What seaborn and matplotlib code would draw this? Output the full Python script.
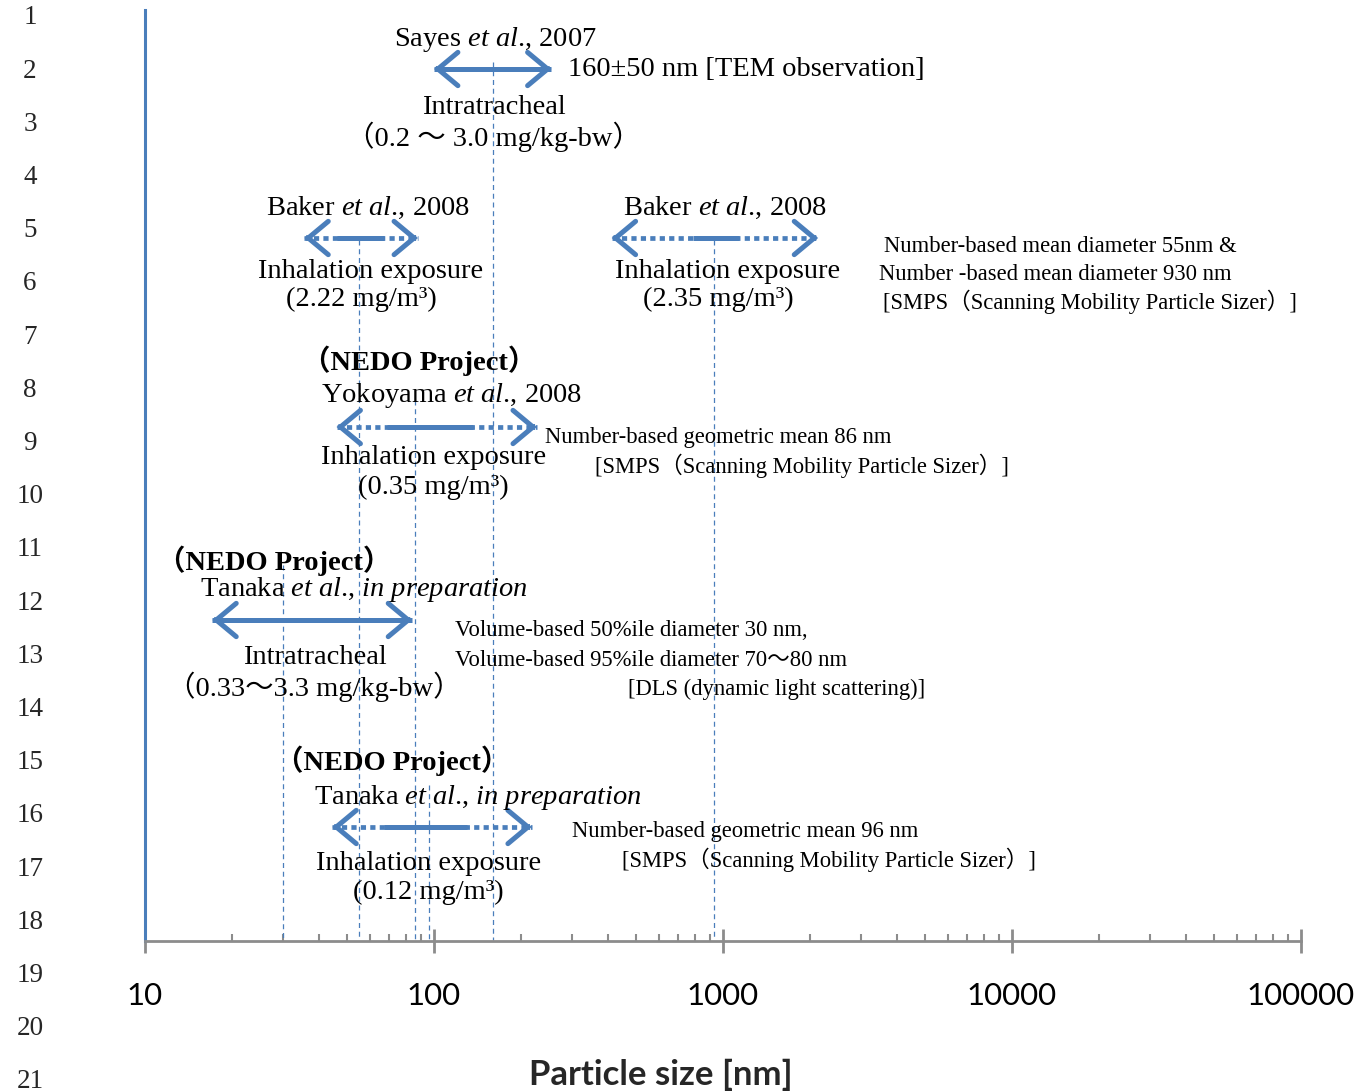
import numpy as np
import pandas as pd
import seaborn as sns
from matplotlib import pyplot as plt
from matplotlib.ticker import FixedLocator, FuncFormatter, NullFormatter

# arrow ranges in nm: outer tips and the solid middle part
studies = ['Sayes 2007', 'Baker 2008 a', 'Baker 2008 b', 'Yokoyama 2008', 'Tanaka IT', 'Tanaka inh']
size_lo = [100, 35.6, 412, 46, 17.1, 44.5]
size_hi = [255, 88, 2134, 227, 84, 218]
core_lo = [100, 46, 787, 69, 17.1, 67]
core_hi = [255, 67, 1136, 136, 84, 130]
is_dotted = [False, True, True, True, False, True]
arrow_y = [69, 238, 238, 427, 620, 827]

# measured sizes (dashed guide lines) and where each starts
measured_nm = [30, 55, 86, 96, 160, 930]
measured_top = [565, 240, 400, 785, 62, 240]

major_ticks = [10, 100, 1000, 10000, 100000]
line_numbers = list(range(1, 22))

BLUE = '#4a7ebb'
GRAY = '#8c8c8c'
SERIF = ['Liberation Serif', 'Noto Sans CJK JP']

sns.set_theme(style='white')
plt.rcParams['font.family'] = SERIF
plt.rcParams['mathtext.fontset'] = 'custom'
plt.rcParams['mathtext.rm'] = 'Liberation Serif'
plt.rcParams['mathtext.it'] = 'Liberation Serif:italic'
plt.rcParams['mathtext.bf'] = 'Liberation Serif:bold'

fig = plt.figure(figsize=(13.63, 10.91), dpi=100)
ax = fig.add_axes([145 / 1363, 150 / 1091, 1156 / 1363, 931 / 1091])
ax.set_xscale('log')
ax.set_xlim(10, 100000)
ax.set_ylim(941, 10)

# guide lines
ax.vlines(measured_nm, measured_top, 940, colors=BLUE, linewidth=0.9, linestyles=(0, (4, 3)), zorder=1)

# arrows
head = '->,head_length=0.72,head_width=0.6'
for lo, hi, clo, chi, dot, y in zip(size_lo, size_hi, core_lo, core_hi, is_dotted, arrow_y):
    if dot:
        sns.lineplot(x=[lo, hi], y=[y, y], ax=ax, color=BLUE, linewidth=3.4,
                     linestyle=(0, (1.1, 0.9)), solid_capstyle='butt', dash_capstyle='butt')
    sns.lineplot(x=[clo, chi], y=[y, y], ax=ax, color=BLUE, linewidth=3.6, solid_capstyle='butt')
    for tip, back in [(lo, lo * 1.02), (hi, hi / 1.02)]:
        ax.annotate('', xy=(tip, y), xytext=(back, y),
                    arrowprops=dict(arrowstyle=head, color=BLUE, lw=3.6, shrinkA=0, shrinkB=0,
                                    mutation_scale=20, capstyle='round', joinstyle='miter'))

# labels: text, x (nm), y, alignment, size, weight
MAIN = 20.5
NOTE = 16.3
ETAL = '$\\mathit{et\\ al}$.'
labels = [
    (f'Sayes {ETAL}, 2007', 163, 39, 'center', MAIN, 'normal'),
    ('160±50 nm [TEM observation]', 292, 69, 'left', MAIN, 'normal'),
    ('Intratracheal', 161, 108, 'center', MAIN, 'normal'),
    ('（0.2 ～ 3.0 mg/kg-bw）', 161, 137, 'center', MAIN, 'normal'),
    (f'Baker {ETAL}, 2008', 59.3, 208, 'center', MAIN, 'normal'),
    ('Inhalation exposure', 60.3, 271, 'center', MAIN, 'normal'),
    ('(2.22 mg/m³)', 56.1, 299, 'center', MAIN, 'normal'),
    (f'Baker {ETAL}, 2008', 1016, 208, 'center', MAIN, 'normal'),
    ('Inhalation exposure', 1041, 271, 'center', MAIN, 'normal'),
    ('(2.35 mg/m³)', 961, 299, 'center', MAIN, 'normal'),
    ('Number-based mean diameter 55nm &', 3614, 246, 'left', NOTE, 'normal'),
    ('Number -based mean diameter 930 nm', 3473, 274, 'left', NOTE, 'normal'),
    ('[SMPS（Scanning Mobility Particle Sizer）]', 3585, 302, 'left', NOTE, 'normal'),
    ('（NEDO Project）', 89.1, 361, 'center', MAIN, 'bold'),
    (f'Yokoyama {ETAL}, 2008', 115, 395, 'center', MAIN, 'normal'),
    ('Inhalation exposure', 99.6, 458, 'center', MAIN, 'normal'),
    ('(0.35 mg/m³)', 99.6, 487, 'center', MAIN, 'normal'),
    ('Number-based geometric mean 86 nm', 241.5, 437, 'left', NOTE, 'normal'),
    ('[SMPS（Scanning Mobility Particle Sizer）]', 360, 466, 'left', NOTE, 'normal'),
    ('（NEDO Project）', 28.0, 561, 'center', MAIN, 'bold'),
    (f'Tanaka {ETAL}, ' + '$\\mathit{in\\ preparation}$', 57.4, 590, 'center', MAIN, 'normal'),
    ('Intratracheal', 38.8, 658, 'center', MAIN, 'normal'),
    ('（0.33～3.3 mg/kg-bw）', 38.5, 687, 'center', MAIN, 'normal'),
    ('Volume-based 50%ile diameter 30 nm,', 117.8, 631, 'left', NOTE, 'normal'),
    ('Volume-based 95%ile diameter 70～80 nm', 117.8, 660, 'left', NOTE, 'normal'),
    ('[DLS (dynamic light scattering)]', 468, 689, 'left', NOTE, 'normal'),
    ('（NEDO Project）', 71.8, 761, 'center', MAIN, 'bold'),
    (f'Tanaka {ETAL}, ' + '$\\mathit{in\\ preparation}$', 141.5, 797, 'center', MAIN, 'normal'),
    ('Inhalation exposure', 95.7, 864, 'center', MAIN, 'normal'),
    ('(0.12 mg/m³)', 95.7, 892, 'center', MAIN, 'normal'),
    ('Number-based geometric mean 96 nm', 300, 831, 'left', NOTE, 'normal'),
    ('[SMPS（Scanning Mobility Particle Sizer）]', 446.7, 860, 'left', NOTE, 'normal'),
]
for txt, x, y, ha, fs, fw in labels:
    ax.text(x, y, txt, ha=ha, va='center', fontsize=fs, fontweight=fw, color='black', family=SERIF)

# axis styling
for side in ['top', 'right']:
    ax.spines[side].set_visible(False)
ax.spines['left'].set_color(BLUE)
ax.spines['left'].set_linewidth(2.2)
ax.spines['bottom'].set_color(GRAY)
ax.spines['bottom'].set_linewidth(2.0)
ax.set_yticks([])
ax.xaxis.set_major_locator(FixedLocator(major_ticks))
ax.xaxis.set_major_formatter(FuncFormatter(lambda v, _: f'{v:g}'))
ax.xaxis.set_minor_formatter(NullFormatter())
ax.tick_params(axis='x', which='major', direction='inout', length=17, width=2, color=GRAY,
               pad=21, labelsize=22.5, labelcolor='black', bottom=True)
ax.tick_params(axis='x', which='minor', direction='in', length=5, width=1.5, color=GRAY, bottom=True)
for lab in ax.get_xticklabels():
    lab.set_family('Lato')
ax.set_xlabel('')
ax.set_ylabel('')

fig.text(661 / 1363, 1 - 1075 / 1091, 'Particle size [nm]', ha='center', va='center',
         fontsize=25, fontweight='bold', family='Lato')

# line numbers down the left margin
for n in line_numbers:
    fig.text(30 / 1363, 1 - (18 + 53.2 * (n - 1)) / 1091, str(n), ha='center', va='center',
             fontsize=19.5, family=SERIF)

fig.savefig('out.png', dpi=100)
